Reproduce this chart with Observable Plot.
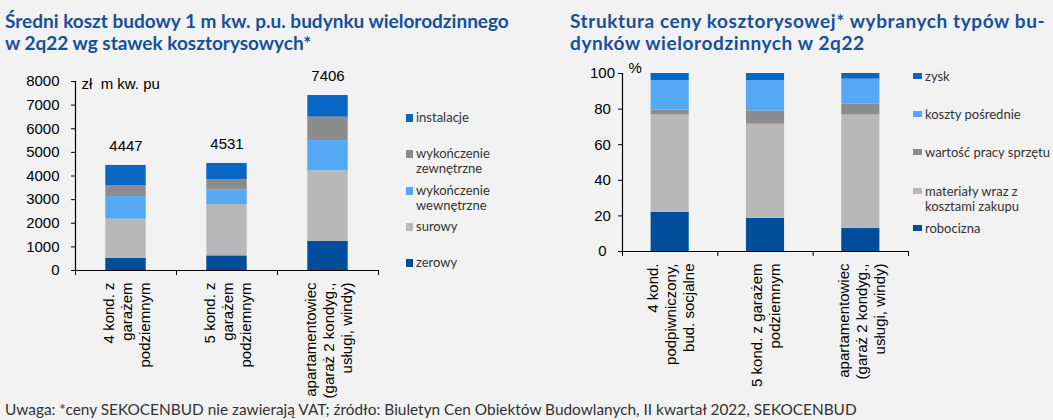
<!DOCTYPE html>
<html>
<head>
<meta charset="utf-8">
<script src="https://cdn.jsdelivr.net/npm/d3@7"></script>
<script src="https://cdn.jsdelivr.net/npm/@observablehq/plot@0.6"></script>
<style>
  html, body { margin: 0; padding: 0; background: #f2f2f2; }
  #root { position: relative; width: 1053px; height: 420px; overflow: hidden; background: #f2f2f2; }
  .title { position: absolute; font-family: Lato, "Noto Sans", sans-serif; font-weight: 700; font-size: 19px; line-height: 22px; color: #16509a; white-space: nowrap; }
  .legend { position: absolute; font-family: Lato, "Noto Sans", sans-serif; font-size: 13px; color: #333; }
  .legend .item { position: absolute; left: 0; display: flex; align-items: flex-start; white-space: nowrap; line-height: 15px; }
  .legend .sw { display: inline-block; flex: none; margin-top: 4px; margin-right: 3px; }
  .caption { position: absolute; left: 5px; top: 400px; font-family: Lato, "Noto Sans", sans-serif; font-size: 15.4px; color: #333; white-space: nowrap; }
  .chart { position: absolute; }
</style>
</head>
<body>
<div id="root">
  <div class="title" style="left:5px; top:10px;">Średni koszt budowy 1 m kw. p.u. budynku wielorodzinnego<br>w 2q22 wg stawek kosztorysowych*</div>
  <div class="title" style="left:570px; top:10px; letter-spacing:0.6px;">Struktura ceny kosztorysowej* wybranych typów bu-<br>dynków wielorodzinnych w 2q22</div>
  <div class="chart" id="left" style="left:0px; top:60px;"></div>
  <div class="legend" id="legLeft" style="left:406px; top:0px;"></div>
  <div class="chart" id="right" style="left:540px; top:52px;"></div>
  <div class="legend" id="legRight" style="left:913px; top:0px;"></div>
  <div class="caption">Uwaga: *ceny SEKOCENBUD nie zawierają VAT; źródło: Biuletyn Cen Obiektów Budowlanych, II kwartał 2022, SEKOCENBUD</div>
</div>
<script>
// ---------- Data: left chart (zł / m kw. p.u.) ----------
const leftCategories = ["4 kond. z\ngarażem\npodziemnym", "5 kond. z\ngarażem\npodziemnym", "apartamentowiec\n(garaż 2 kondyg.,\nusługi, windy)"];
const leftSeries = ["zerowy", "surowy", "wykończenie wewnętrzne", "wykończenie zewnętrzne", "instalacje"];
const zerowy = [510, 620, 1230];
const surowy = [1660, 2170, 2990];
const wykWewnetrzne = [960, 620, 1280];
const wykZewnetrzne = [450, 440, 990];
const instalacje = [867, 681, 916];
const leftTotals = [4447, 4531, 7406];
const leftTicks = [0, 1000, 2000, 3000, 4000, 5000, 6000, 7000, 8000];
const leftUnit = "zł\u00a0 m kw. pu";

// ---------- Data: right chart (%) ----------
const rightCategories = ["4 kond.\npodpiwniczony,\nbud. socjalne", "5 kond. z garażem\npodziemnym", "apartamentowiec\n(garaż 2 kondyg.,\nusługi, windy)"];
const rightSeries = ["robocizna", "materiały wraz z kosztami zakupu", "wartość pracy sprzętu", "koszty pośrednie", "zysk"];
const robocizna = [22.0, 18.6, 12.9];
const materialy = [54.7, 52.9, 63.8];
const sprzet = [2.8, 7.3, 6.2];
const posrednie = [16.5, 17.2, 13.9];
const zysk = [4.0, 4.0, 3.2];
const rightTicks = [0, 20, 40, 60, 80, 100];
const rightUnit = "%";

// ---------- Styles ----------
const colDarkBlue = "#004d9b", colLightGray = "#b8b8b8", colLightBlue = "#55a9f4", colGray = "#8c8c8c", colBlue = "#0a66c4";
const leftColors = [colDarkBlue, colLightGray, colLightBlue, colGray, colBlue];
const rightColors = [colDarkBlue, colLightGray, colGray, colLightBlue, colBlue];

function longTable(seriesNames, arrays) {
  const rows = [];
  arrays[0].forEach((_, i) => {
    seriesNames.forEach((s, k) => rows.push({i, series: s, value: arrays[k][i]}));
  });
  return rows;
}

const axisFont = {fontFamily: "'Liberation Sans', Arial, sans-serif", fontSize: "15px", background: "transparent", color: "#000", overflow: "visible"};

function centerRotatedLines(svg) {
  svg.querySelectorAll('g[aria-label="xlabels"] text').forEach(t => {
    const spans = t.querySelectorAll("tspan");
    if (!spans.length) return;
    let max = 0;
    spans.forEach(s => { max = Math.max(max, s.getComputedTextLength()); });
    t.setAttribute("text-anchor", "middle");
    spans.forEach(s => s.setAttribute("x", -max / 2));
  });
}

function makeChart({cats, series, arrays, colors, ticks, unit, width, height, marginLeft, marginRight, marginTop, marginBottom, yMax, tickPadding, tickAnchor, totals, unitDy}) {
  const n = cats.length;
  const rows = longTable(series, arrays);
  const idx = d3.range(n);
  const marks = [
    Plot.rectY(rows, {x1: d => d.i + 0.3, x2: d => d.i + 0.7, y: "value", fill: "series"}),
    Plot.ruleY([0], {stroke: "#000", strokeWidth: 1.2}),
    Plot.ruleX([0], {stroke: "#000", strokeWidth: 1.2}),
    Plot.axisY({ticks, label: null, tickSize: 4, tickPadding, textAnchor: tickAnchor, tickFormat: d3.format("d"), stroke: "#000"}),
    Plot.axisX({ticks: d3.range(n + 1), label: null, tickSize: 5, tickFormat: () => "", stroke: "#000"}),
    Plot.text(idx, {x: i => i + 0.5, text: i => cats[i], frameAnchor: "bottom", rotate: -90, textAnchor: "end", lineAnchor: "middle", lineHeight: 1.2, dy: 12, fontSize: 15, fill: "#000", ariaLabel: "xlabels"}),
    Plot.text([unit], {frameAnchor: "top-left", dx: 6, dy: unitDy, lineAnchor: "middle", fontSize: 15, fill: "#000"})
  ];
  if (totals) {
    marks.push(Plot.text(idx, {x: i => i + 0.5, y: i => totals[i], text: i => String(totals[i]), dy: -19, fontSize: 15, fill: "#000"}));
  }
  return Plot.plot({
    width, height, marginLeft, marginRight, marginTop, marginBottom,
    style: axisFont,
    x: {type: "linear", domain: [0, n], axis: null},
    y: {domain: [0, yMax], axis: null},
    color: {domain: series, range: colors},
    marks
  });
}

const leftSvg = makeChart({
  cats: leftCategories, series: leftSeries, arrays: [zerowy, surowy, wykWewnetrzne, wykZewnetrzne, instalacje],
  colors: leftColors, ticks: leftTicks, unit: leftUnit, width: 390, height: 340,
  marginLeft: 75, marginRight: 12, marginTop: 21, marginBottom: 130, yMax: 8000,
  tickPadding: 12, tickAnchor: "end", totals: leftTotals, unitDy: 3
});
document.getElementById("left").appendChild(leftSvg);
centerRotatedLines(leftSvg);

const rightSvg = makeChart({
  cats: rightCategories, series: rightSeries, arrays: [robocizna, materialy, sprzet, posrednie, zysk],
  colors: rightColors, ticks: rightTicks, unit: rightUnit, width: 380, height: 329,
  marginLeft: 82, marginRight: 12, marginTop: 21, marginBottom: 130, yMax: 100,
  tickPadding: 16, tickAnchor: "middle", totals: null, unitDy: -5
});
document.getElementById("right").appendChild(rightSvg);
centerRotatedLines(rightSvg);

// ---------- Legends (HTML) ----------
function legend(el, names, colors, tops, sw) {
  names.forEach((name, k) => {
    const item = document.createElement("div");
    item.className = "item";
    item.style.top = tops[k] + "px";
    const s = document.createElement("span");
    s.className = "sw";
    s.style.width = sw[0] + "px";
    s.style.height = sw[1] + "px";
    s.style.background = colors[k];
    const t = document.createElement("span");
    t.innerHTML = name;
    item.appendChild(s);
    item.appendChild(t);
    el.appendChild(item);
  });
}
legend(document.getElementById("legLeft"),
  ["instalacje", "wykończenie<br>zewnętrzne", "wykończenie<br>wewnętrzne", "surowy", "zerowy"],
  [colBlue, colGray, colLightBlue, colLightGray, colDarkBlue],
  [110, 146, 183, 219, 255], [7, 8]);
legend(document.getElementById("legRight"),
  ["zysk", "koszty pośrednie", "wartość pracy sprzętu", "materiały wraz z<br>kosztami zakupu", "robocizna"],
  [colBlue, colLightBlue, colGray, colLightGray, colDarkBlue],
  [69, 107, 145, 184, 221], [9, 6]);
</script>
</body>
</html>
